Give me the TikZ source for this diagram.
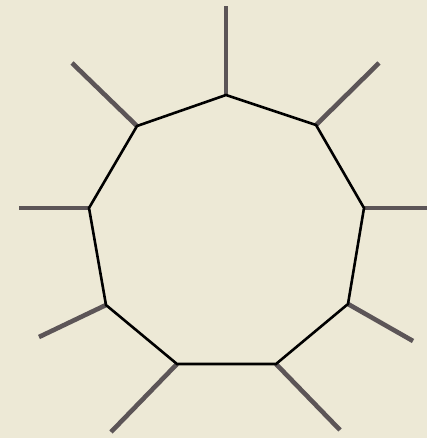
\documentclass[tikz,border=0pt]{standalone}
\definecolor{bg}{RGB}{237,233,214}
\definecolor{spokecol}{RGB}{92,85,87}
\tikzset{
  ring/.style={draw=black, line width=2.6pt, line join=miter},
  spoke/.style={draw=spokecol, line width=4.6pt, line cap=butt}
}
\begin{document}
\begin{tikzpicture}[x=1pt,y=-1pt]
\fill[bg] (0,0) rectangle (427,438);
\useasboundingbox (0,0) rectangle (427,438);
% vertices
\coordinate (v1) at (226,95);
\coordinate (v2) at (316,125);
\coordinate (v3) at (364,208);
\coordinate (v4) at (348,304);
\coordinate (v5) at (276,364);
\coordinate (v6) at (177,364);
\coordinate (v7) at (106,305);
\coordinate (v8) at (89,208);
\coordinate (v9) at (137,126);
% spoke ends
\coordinate (e1) at (226,6);
\coordinate (e2) at (379,63);
\coordinate (e3) at (427,208);
\coordinate (e4) at (413,341);
\coordinate (e5) at (340,430);
\coordinate (e6) at (111,432);
\coordinate (e7) at (39,337);
\coordinate (e8) at (19,208);
\coordinate (e9) at (72,63);
\foreach \i in {1,...,9} { \draw[spoke] (v\i) -- (e\i); }
\draw[ring] (v1) -- (v2) -- (v3) -- (v4) -- (v5) -- (v6) -- (v7) -- (v8) -- (v9) -- cycle;
\end{tikzpicture}
\end{document}
